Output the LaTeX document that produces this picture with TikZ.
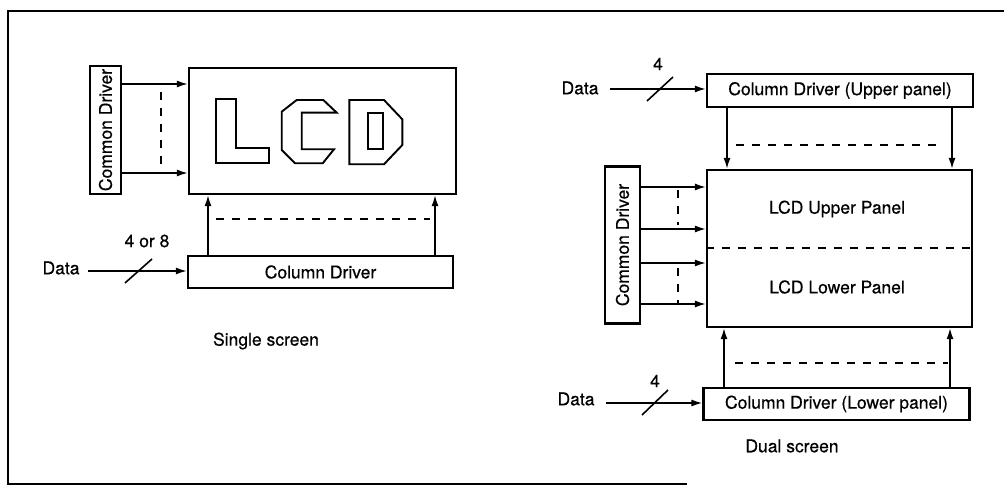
\documentclass[tikz,border=0pt]{standalone}
\usepackage{fontspec}
\setmainfont{TeX Gyre Heros}[FakeBold=0.5]
\usetikzlibrary{arrows.meta}
\begin{document}
\begin{tikzpicture}[x=1pt,y=-1pt,
  box/.style={draw,line width=2.2pt,inner sep=0pt},
  lbl/.style={font=\fontsize{17.5}{20}\selectfont,inner sep=0pt},
  arr/.style={line width=1.6pt,-{Latex[length=11pt,width=7pt]}},
  dsh/.style={line width=1.6pt,dash pattern=on 8pt off 8pt},
  ln/.style={line width=1.6pt},
  letter/.style={line width=1.9pt,line join=miter},
  frame/.style={line width=2pt}]
\useasboundingbox (0,0) rectangle (1004,489);
\draw[frame] (1004,11) -- (8,11) -- (8,484) -- (687,484);

% ---------------- Single screen ----------------
\node[box,minimum width=31pt,minimum height=128pt] (cdL) at (105.5,130) {};
\node[lbl,rotate=90] (cdLt) at (cdL.center) {Common Driver};
\node[box,minimum width=267pt,minimum height=126pt] (lcdL) at (322.5,131) {};
\node[box,minimum width=265pt,minimum height=32pt] (colL) at (320.5,272) {};
\node[lbl] (colLt) at (colL.center) {Column Driver};

% LCD outline letters
\draw[letter] (216,99) -- (236,99) -- (236,148) -- (269,148) -- (269,163) -- (216,163) -- cycle;
\draw[letter] (296.7,100) -- (323.3,100) -- (336.7,112.7) -- (301.7,112.7) -- (301.7,149.3)
  -- (334,149.3) -- (322.7,163.3) -- (295,163.3) -- (281.7,150) -- (281.7,111.7) -- cycle;
\draw[letter] (349.3,100) -- (384,100) -- (402.3,119.3) -- (402.3,145) -- (384,164.3) -- (349.3,164.3) -- cycle;
\draw[letter] (367.7,113.3) rectangle (383.3,149.3);

\draw[arr] (cdL.east |- 0,84) -- (lcdL.west |- 0,84);
\draw[arr] (cdL.east |- 0,173) -- (lcdL.west |- 0,173);
\draw[dsh] (161,92) -- (161,171);

\draw[arr] (colL.north -| 208,0) -- (lcdL.south -| 208,0);
\draw[arr] (colL.north -| 435,0) -- (lcdL.south -| 435,0);
\draw[dsh] (216,219) -- (430,219);

\node[lbl] (dataL) at (61,268) {Data};
\coordinate (dL) at (88,271);
\draw[arr] (dL) -- (colL.west |- dL);
\draw[ln] (125,283) -- (152,259);
\node[lbl] (nL) at (147,241) {4 or 8};
\node[lbl] (ssL) at (266,341) {Single screen};

% ---------------- Dual screen ----------------
\node[box,minimum width=266pt,minimum height=33pt] (colU) at (840,90.5) {};
\node[lbl] (colUt) at (colU.center) {Column Driver (Upper panel)};
\node[box,minimum width=265pt,minimum height=157pt] (lcdR) at (839.5,248.5) {};
\node[lbl] (upT) at (837,209) {LCD Upper Panel};
\node[lbl] (loT) at (837,287) {LCD Lower Panel};
\draw[dsh] (lcdR.west |- 0,248) -- (lcdR.east |- 0,248);
\node[box,minimum width=35pt,minimum height=157pt] (cdR) at (622.5,245) {};
\node[lbl,rotate=90] (cdRt) at (cdR.center) {Common Driver};
\node[box,minimum width=266pt,minimum height=32pt] (colD) at (836.5,404) {};
\node[lbl] (colDt) at (colD.center) {Column Driver (Lower panel)};

\foreach \yy in {187,229,263,304}
  \draw[arr] (cdR.east |- 0,\yy) -- (lcdR.west |- 0,\yy);
\draw[dsh] (678,190) -- (678,225);
\draw[dsh] (678,268) -- (678,303);

\draw[arr] (colU.south -| 727,0) -- (lcdR.north -| 727,0);
\draw[arr] (colU.south -| 952,0) -- (lcdR.north -| 952,0);
\draw[dsh] (736,145) -- (940,145);

\draw[arr] (colD.north -| 724,0) -- (lcdR.south -| 724,0);
\draw[arr] (colD.north -| 950,0) -- (lcdR.south -| 950,0);
\draw[dsh] (735,363) -- (948,363);

\node[lbl] (dataU) at (580,88) {Data};
\coordinate (dU) at (610,89);
\draw[arr] (dU) -- (colU.west |- dU);
\draw[ln] (647,101) -- (673,77);
\node[lbl] (nU) at (658,64) {4};

\node[lbl] (dataD) at (576,399) {Data};
\coordinate (dD) at (606,403);
\draw[arr] (dD) -- (colD.west |- dD);
\draw[ln] (642,415) -- (668,390);
\node[lbl] (nD) at (655,381) {4};

\node[lbl] (dsR) at (792,446) {Dual screen};
\end{tikzpicture}
\end{document}
